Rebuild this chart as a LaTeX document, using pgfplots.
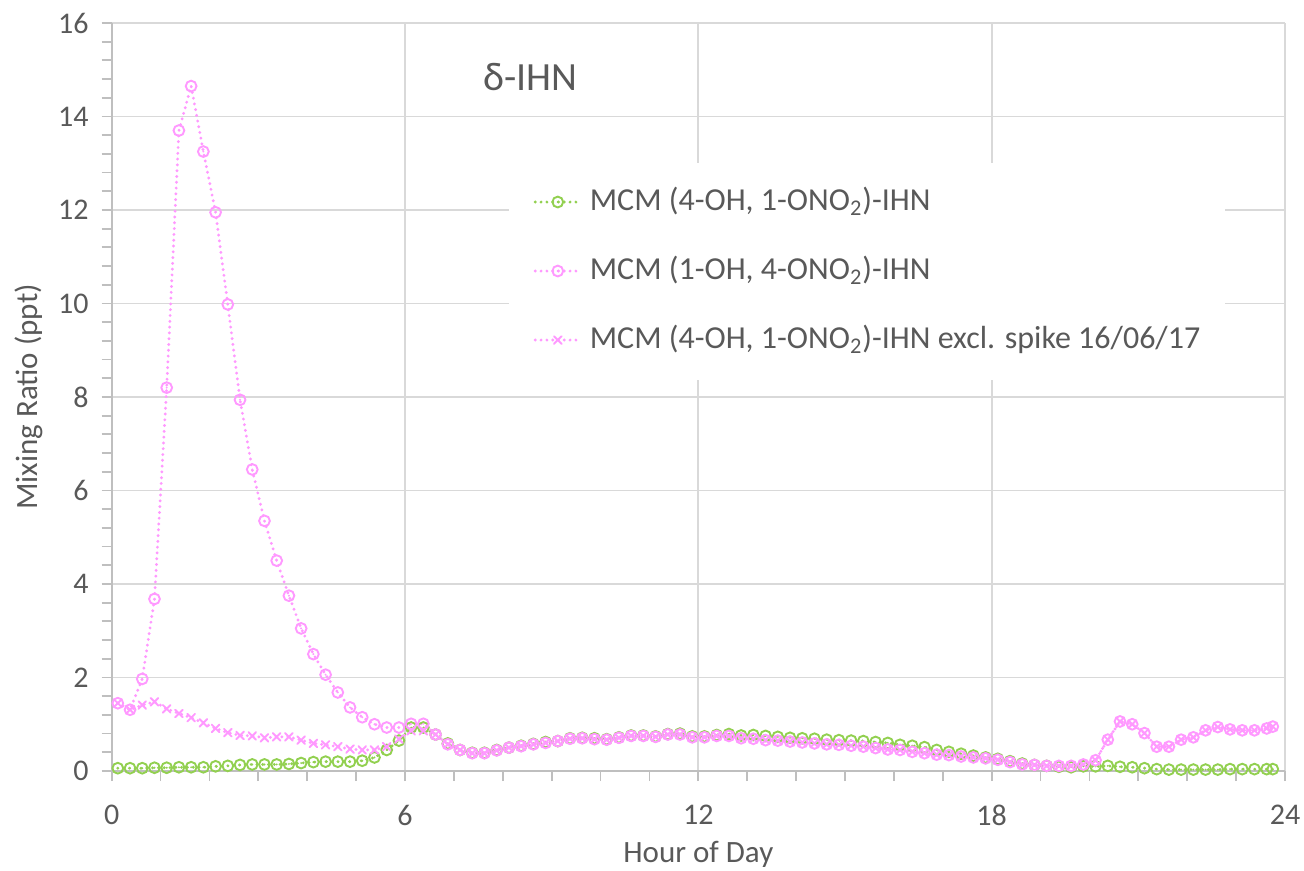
\documentclass[border=0pt]{standalone}
\usepackage{fontspec}
\setmainfont{Carlito}
\usepackage{pgfplots}
\usepackage{pgfplotstable}
\pgfplotsset{compat=1.18}

\definecolor{cgreen}{HTML}{92D050}
\definecolor{cpink}{HTML}{FF99FF}
\definecolor{cgrid}{HTML}{D9D9D9}
\definecolor{caxis}{HTML}{BFBFBF}
\definecolor{ctext}{HTML}{595959}

\pgfdeclareplotmark{cdot}{%
  \pgfpathcircle{\pgfpointorigin}{\pgfplotmarksize}\pgfusepathqstroke
  \pgfpathcircle{\pgfpointorigin}{0.2\pgfplotmarksize}\pgfusepathqfill}

\pgfplotstableread{
x g p c
0.125 0.06 1.45 1.45
0.375 0.06 1.31 1.31
0.625 0.06 1.97 1.41
0.875 0.07 3.68 1.48
1.125 0.07 8.20 1.33
1.375 0.08 13.70 1.23
1.625 0.08 14.65 1.14
1.875 0.08 13.25 1.03
2.125 0.10 11.95 0.91
2.375 0.11 9.98 0.82
2.625 0.13 7.94 0.76
2.875 0.14 6.45 0.75
3.125 0.14 5.35 0.71
3.375 0.14 4.50 0.73
3.625 0.15 3.75 0.73
3.875 0.17 3.05 0.66
4.125 0.19 2.50 0.59
4.375 0.20 2.06 0.56
4.625 0.20 1.68 0.52
4.875 0.20 1.36 0.47
5.125 0.22 1.15 0.45
5.375 0.29 1.00 0.45
5.625 0.45 0.93 0.52
5.875 0.65 0.93 0.68
6.125 0.93 1.01 0.86
6.375 0.93 1.01 0.86
6.625 0.78 0.78 0.78
6.875 0.59 0.57 0.57
7.125 0.45 0.45 0.45
7.375 0.39 0.38 0.38
7.625 0.39 0.38 0.38
7.875 0.45 0.44 0.44
8.125 0.50 0.50 0.50
8.375 0.54 0.53 0.53
8.625 0.58 0.57 0.57
8.875 0.62 0.60 0.60
9.125 0.64 0.64 0.64
9.375 0.70 0.69 0.69
9.625 0.71 0.70 0.70
9.875 0.70 0.68 0.68
10.125 0.68 0.67 0.67
10.375 0.72 0.71 0.71
10.625 0.76 0.75 0.75
10.875 0.76 0.75 0.75
11.125 0.74 0.73 0.73
11.375 0.79 0.78 0.78
11.625 0.80 0.78 0.78
11.875 0.74 0.72 0.72
12.125 0.74 0.72 0.72
12.375 0.77 0.75 0.75
12.625 0.79 0.75 0.75
12.875 0.76 0.70 0.70
13.125 0.77 0.69 0.69
13.375 0.75 0.66 0.66
13.625 0.73 0.65 0.65
13.875 0.71 0.63 0.63
14.125 0.70 0.61 0.61
14.375 0.69 0.59 0.59
14.625 0.67 0.57 0.57
14.875 0.66 0.56 0.56
15.125 0.65 0.54 0.54
15.375 0.64 0.52 0.52
15.625 0.62 0.49 0.49
15.875 0.60 0.46 0.46
16.125 0.56 0.45 0.45
16.375 0.54 0.41 0.41
16.625 0.51 0.38 0.38
16.875 0.45 0.35 0.35
17.125 0.41 0.34 0.34
17.375 0.37 0.31 0.31
17.625 0.33 0.29 0.29
17.875 0.29 0.27 0.27
18.125 0.26 0.24 0.24
18.375 0.21 0.19 0.19
18.625 0.16 0.14 0.14
18.875 0.13 0.13 0.13
19.125 0.11 0.11 0.11
19.375 0.09 0.11 0.11
19.625 0.08 0.11 0.11
19.875 0.10 0.14 0.14
20.125 0.10 0.23 0.23
20.375 0.11 0.67 0.67
20.625 0.09 1.06 1.06
20.875 0.08 1.00 1.00
21.125 0.06 0.81 0.81
21.375 0.04 0.52 0.52
21.625 0.03 0.52 0.52
21.875 0.03 0.67 0.67
22.125 0.03 0.72 0.72
22.375 0.03 0.87 0.87
22.625 0.03 0.94 0.94
22.875 0.04 0.89 0.89
23.125 0.04 0.87 0.87
23.375 0.04 0.87 0.87
23.625 0.04 0.91 0.91
23.750 0.04 0.95 0.95
}\datatable

\pgfplotsset{
  dotline/.style={line width=1.6pt, line cap=round, dash pattern=on 0pt off 2.9pt},
}

\begin{document}
\begin{tikzpicture}
\path[use as bounding box] (-55.85pt,-50pt) rectangle (596.15pt,385.5pt);
\begin{axis}[
  at={(0,0)}, anchor=south west,
  scale only axis, width=586.65pt, height=374pt,
  xmin=0, xmax=24, ymin=0, ymax=16,
  xtick={0,6,...,24}, ytick={0,2,...,16},
  minor x tick num=5, minor y tick num=4,
  axis lines*=left,
  axis line style={caxis, line width=0.9pt},
  grid=major,
  major grid style={cgrid, line width=0.9pt},
  tick style={caxis, line width=0.9pt},
  tick align=outside,
  major tick length=5pt, minor tick length=5pt,
  /pgf/number format/assume math mode=true,
  ticklabel style={font=\fontsize{15}{18}\selectfont, text=ctext},
  xticklabel style={yshift=-8.5pt},
  yticklabel style={xshift=-3pt},
  xlabel={Hour of Day}, ylabel={Mixing Ratio (ppt)},
  label style={font=\fontsize{15.5}{18}\selectfont, text=ctext},
  xlabel style={at={(axis description cs:0.5,-0.111)}, anchor=center},
  ylabel style={at={(axis description cs:-0.0707,0.5)}, anchor=center},
  clip=false,
  legend cell align=left,
  legend style={at={(rel axis cs:0.338,0.814)}, anchor=north west,
    draw=none, fill=white, text=ctext,
    font=\fontsize{16}{19}\selectfont,
    inner xsep=12.5pt, inner ysep=12pt, row sep=19pt, column sep=4pt,
    nodes={inner sep=0pt, text height=12pt, text depth=3.5pt}},
  legend image code/.code={%
    \draw[#1, mark repeat=2, mark phase=2] plot coordinates {(0pt,0pt) (11.25pt,0pt) (22.5pt,0pt)};},
]
\addplot[cgreen, dotline, mark=cdot, mark size=2.7pt,
  mark options={solid, line width=0.95pt, draw=cgreen, fill=cgreen}]
  table[x=x, y=g] {\datatable};
\addlegendentry{MCM (4-OH, 1-ONO\textsubscript{2})-IHN}
\addplot[cpink, dotline, mark=cdot, mark size=2.7pt,
  mark options={solid, line width=0.95pt, draw=cpink, fill=cpink}]
  table[x=x, y=p] {\datatable};
\addlegendentry{MCM (1-OH, 4-ONO\textsubscript{2})-IHN}
\addplot[cpink, dotline, mark=x, mark size=2.7pt,
  mark options={solid, line width=0.95pt, draw=cpink}]
  table[x=x, y=c] {\datatable};
\addlegendentry{MCM (4-OH, 1-ONO\textsubscript{2})-IHN excl. spike 16/06/17}
\node[text=ctext, font=\fontsize{20}{24}\selectfont] at (axis cs:8.57,14.84) {δ-IHN};
\end{axis}
\end{tikzpicture}
\end{document}
